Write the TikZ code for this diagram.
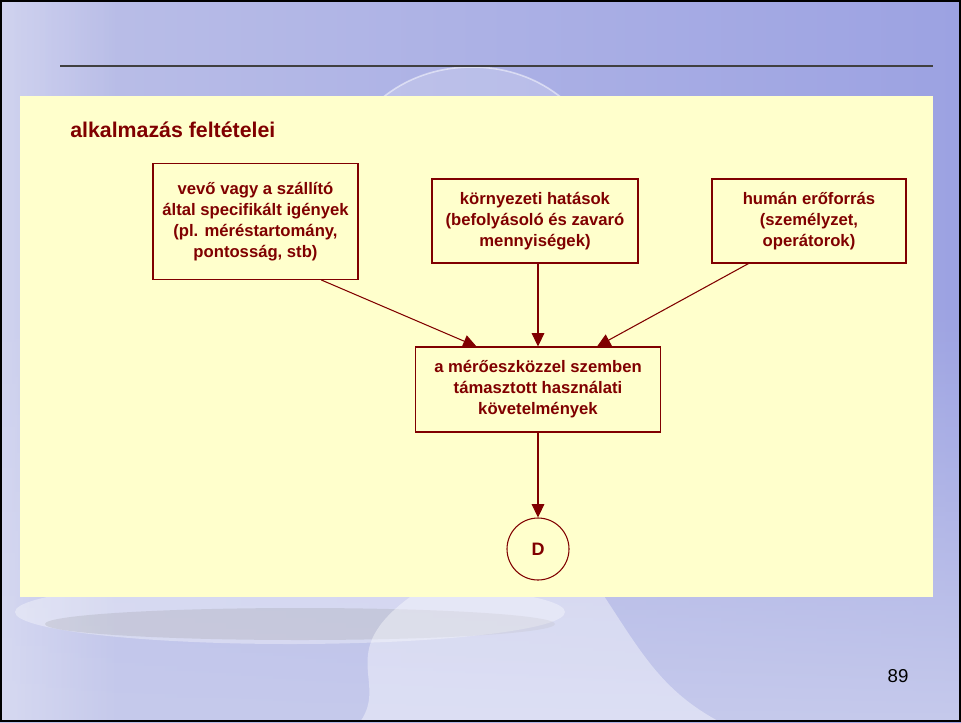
\documentclass[tikz,border=0pt]{standalone}
\usepackage{fontspec}
\setmainfont{Liberation Sans}
\usetikzlibrary{arrows.meta,shapes.geometric,calc,fadings}
\definecolor{dred}{HTML}{800000}
\definecolor{panel}{HTML}{FFFFCC}
\definecolor{bgA}{HTML}{BCC0E8}
\definecolor{bgB}{HTML}{9CA2E2}
\definecolor{bgC}{HTML}{C6CAEC}
\begin{document}
\begin{tikzpicture}[x=0.75pt,y=-0.75pt,
  boxst/.style={draw=dred,line width=0.8pt,fill=panel,align=center,text=dred,
     font=\fontsize{12.5}{15.75}\selectfont\bfseries,inner sep=0pt},
  arr/.style={draw=dred,line width=0.8pt,-{Triangle[length=10pt,width=9.5pt]}},
  titlest/.style={text=dred,font=\fontsize{16}{19}\selectfont\bfseries,anchor=west,inner sep=0pt},
  pagest/.style={font=\fontsize{14}{16}\selectfont,inner sep=0pt}]
\useasboundingbox (0,0) rectangle (961,722);
% background
\shade[left color=bgA,right color=bgB] (0,0) rectangle (961,722);
\fill[bgC,path fading=north] (0,300) rectangle (961,722);
\fill[white,opacity=0.3,path fading=east] (0,0) rectangle (120,722);
\fill[white,opacity=0.18] (472,175) ellipse (128 and 108);
\draw[white,opacity=0.5,line width=1.2pt] (472,175) ellipse (128 and 108);
\fill[white,opacity=0.35] (290,612) ellipse (275 and 32);
\fill[gray,opacity=0.18] (300,624) ellipse (255 and 16);
\fill[white,opacity=0.4] (360,722) .. controls (390,680) and (330,650) .. (420,590)
   -- (600,590) .. controls (640,650) and (660,690) .. (720,722) -- cycle;
% horizontal rule
\draw[line width=1.5pt,black!75] (60,66) -- (933,66);
% panel
\fill[panel] (20,96) rectangle (933,597);
\node[titlest] (title) at (70,130) {alkalmazás feltételei};
% boxes
\node[boxst,minimum width=205*0.75pt,minimum height=116*0.75pt] (b1) at (255.5,221.5)
  {vevő vagy a szállító\\által specifikált igények\\(pl. méréstartomány,\\pontosság, stb)};
\node[boxst,minimum width=206*0.75pt,minimum height=84*0.75pt] (b2) at (535,221)
  {környezeti hatások\\(befolyásoló és zavaró\\mennyiségek)};
\node[boxst,minimum width=194*0.75pt,minimum height=84*0.75pt] (b3) at (809,221)
  {humán erőforrás\\(személyzet,\\operátorok)};
\node[boxst,minimum width=245*0.75pt,minimum height=85*0.75pt] (m) at (538,389.5)
  {a mérőeszközzel szemben\\támasztott használati\\követelmények};
\node[boxst,circle,minimum size=62*0.75pt,font=\fontsize{13.5}{15.75}\selectfont\bfseries] (d) at (538,549) {D};
% connectors
\coordinate (s1) at ($(b1.south west)!0.82!(b1.south east)$);
\coordinate (t1) at ($(m.north west)!0.25!(m.north east)$);
\coordinate (s3) at ($(b3.south west)!0.19!(b3.south east)$);
\coordinate (t3) at ($(m.north west)!0.74!(m.north east)$);
\draw[arr] (s1) -- (t1);
\draw[arr] (b2.south -| m.north) -- (m.north);
\draw[arr] (s3) -- (t3);
\draw[arr] (m.south) -- (d.north);
% page number
\node[pagest] (pg) at (898,676) {89};
% border
\draw[line width=2.2pt,black] (1,1) rectangle (960,721);
\end{tikzpicture}
\end{document}
